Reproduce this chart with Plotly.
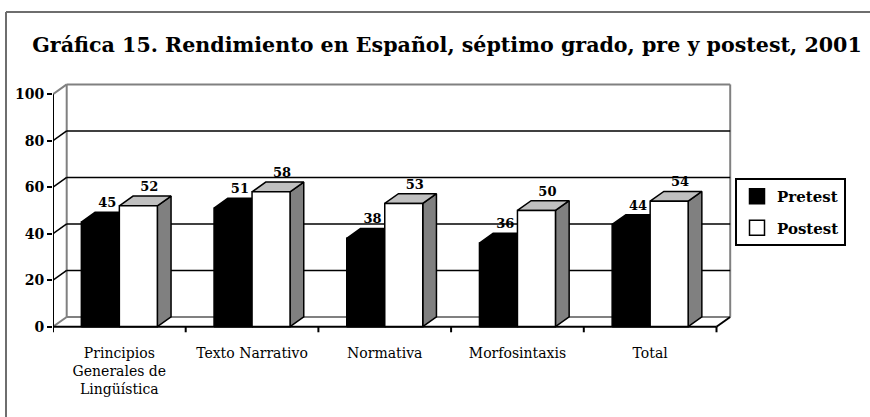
import plotly.graph_objects as go

# ---- data ----
categories = ["Principios<br>Generales de<br>Lingüística", "Texto Narrativo", "Normativa",
              "Morfosintaxis", "Total"]
pretest = [45, 51, 38, 36, 44]
postest = [52, 58, 53, 50, 54]
series_names = ["Pretest", "Postest"]
y_ticks = [0, 20, 40, 60, 80, 100]
title_text = "Gráfica 15. Rendimiento en Español, séptimo grado, pre y postest, 2001"

# ---- geometry / style ----
W, H = 870, 417
ML, MR, MT, MB = 53, 137, 80, 82
PW, PH = W - ML - MR, H - MT - MB
CAT_PX = 132.7
Y0_PX = 326.7
PX_PER_UNIT = 2.325
x_range = [-0.5, -0.5 + PW / CAT_PX]
y_range = [-(MT + PH - Y0_PX) / PX_PER_UNIT, (Y0_PX - MT) / PX_PER_UNIT]
DX = 13.7 / CAT_PX
DY = 4.2
BW = 38 / CAT_PX
SERIF = "DejaVu Serif"
GRAY = "#808080"
LIGHT = "#c0c0c0"
n = len(categories)
xs = list(range(n))
ymax = max(y_ticks)


def px2paper(px, py):
    return (px - ML) / PW, (MT + PH - py) / PH


fig = go.Figure()


def add_lines(segs, color, width):
    xx, yy = [], []
    for (a, b), (c, d) in segs:
        xx += [a, c, None]
        yy += [b, d, None]
    fig.add_trace(go.Scatter(x=xx, y=yy, mode="lines", line=dict(color=color, width=width),
                             hoverinfo="skip", showlegend=False))


left = -0.5
right = n - 0.5
# back wall frame and floor (gray)
add_lines([((left + DX, DY), (left + DX, ymax + DY)),
           ((left + DX, ymax + DY), (right + DX, ymax + DY)),
           ((right + DX, DY), (right + DX, ymax + DY)),
           ((left + DX, DY), (right + DX, DY)),
           ((left, 0), (left + DX, DY)),
           ((left, ymax), (left + DX, ymax + DY))], GRAY, 2)
# gridlines (black) on back and left wall
grid = [v for v in y_ticks if 0 < v < ymax]
add_lines([((left + DX, v + DY), (right + DX, v + DY)) for v in grid]
          + [((left, v), (left + DX, v + DY)) for v in grid], "black", 1.6)


def polys(pts_list):
    xx, yy = [], []
    for pts in pts_list:
        for p in pts:
            xx.append(p[0]); yy.append(p[1])
        xx.append(pts[0][0]); yy.append(pts[0][1])
        xx.append(None); yy.append(None)
    return xx, yy


def add_bars(values, offset, front, top, side, lc):
    fr, tp, sd = [], [], []
    for i, v in zip(xs, values):
        x0 = i + offset
        x1 = x0 + BW
        fr.append([(x0, 0), (x1, 0), (x1, v), (x0, v)])
        tp.append([(x0, v), (x1, v), (x1 + DX, v + DY), (x0 + DX, v + DY)])
        sd.append([(x1, 0), (x1 + DX, DY), (x1 + DX, v + DY), (x1, v)])
    for pl, col in ((sd, side), (tp, top), (fr, front)):
        xx, yy = polys(pl)
        fig.add_trace(go.Scatter(x=xx, y=yy, mode="lines", fill="toself", fillcolor=col,
                                 line=dict(color=lc, width=1.5), hoverinfo="skip",
                                 showlegend=False))


add_bars(pretest, -BW, "black", "black", "black", "black")
add_bars(postest, 0, "white", LIGHT, GRAY, "black")

# axis lines and ticks (front)
add_lines([((left, 0), (left, ymax)), ((left, 0), (right, 0)), ((right, 0), (right + DX, DY))]
          + [((b - 0.5, 0), (b - 0.5, -2.4)) for b in range(n + 1)], "black", 2)

# data labels
fig.add_trace(go.Scatter(x=[i - BW / 2 + DX * 0.5 for i in xs], y=[v + DY + 3.6 for v in pretest],
                         mode="text", text=[str(v) for v in pretest],
                         textfont=dict(family=SERIF, size=13, color="black", weight="bold"),
                         hoverinfo="skip", showlegend=False, cliponaxis=False))
fig.add_trace(go.Scatter(x=[i + BW / 2 + DX * 0.8 for i in xs], y=[v + DY + 3.6 for v in postest],
                         mode="text", text=[str(v) for v in postest],
                         textfont=dict(family=SERIF, size=13, color="black", weight="bold"),
                         hoverinfo="skip", showlegend=False, cliponaxis=False))

# legend entries
fig.add_trace(go.Scatter(x=[None], y=[None], mode="markers", name=series_names[0],
                         legendgroup="a",
                         marker=dict(symbol="square", size=15, color="black",
                                     line=dict(color="black", width=1.5))))
fig.add_trace(go.Scatter(x=[None], y=[None], mode="markers", name=series_names[1],
                         legendgroup="b",
                         marker=dict(symbol="square", size=15, color="white",
                                     line=dict(color="black", width=1.5))))

# outer frame
fx0, fy0 = px2paper(6, 12)
fx1, _ = px2paper(872, 12)
_, fy1 = px2paper(6, 420)
fig.add_shape(type="line", xref="paper", yref="paper", x0=fx0, y0=fy0, x1=fx1, y1=fy0,
              line=dict(color="#6e6e6e", width=2))
fig.add_shape(type="line", xref="paper", yref="paper", x0=fx0, y0=fy0, x1=fx0, y1=fy1,
              line=dict(color="#6e6e6e", width=2))

lx, ly = px2paper(735, 178)
fig.update_layout(
    width=W, height=H,
    margin=dict(l=ML, r=MR, t=MT, b=MB, autoexpand=False),
    paper_bgcolor="white", plot_bgcolor="white",
    title=dict(text=title_text, xref="container", yref="container",
               x=447 / W, y=1 - 45 / H, xanchor="center", yanchor="middle",
               font=dict(family=SERIF, size=20.6, color="black", weight="bold")),
    xaxis=dict(range=x_range, tickmode="array", tickvals=xs, ticktext=categories,
               showgrid=False, zeroline=False, showline=False, ticks="",
               ticklabelstandoff=8, automargin=False,
               tickfont=dict(family=SERIF, size=14, color="black")),
    yaxis=dict(range=y_range, tickmode="array", tickvals=y_ticks,
               showgrid=False, zeroline=False, showline=False, ticks="outside",
               ticklen=5, tickwidth=2, tickcolor="black", ticklabelstandoff=0,
               automargin=False,
               tickfont=dict(family=SERIF, size=14, color="black", weight="bold")),
    legend=dict(x=lx, y=ly, xanchor="left", yanchor="top", bgcolor="white",
                bordercolor="black", borderwidth=2, tracegroupgap=9,
                font=dict(family=SERIF, size=15, color="black", weight="bold")),
    showlegend=True,
)

fig.write_html("out.html", config={"displayModeBar": False},
               post_script="document.body.style.margin='0';document.body.style.overflow='hidden';")
